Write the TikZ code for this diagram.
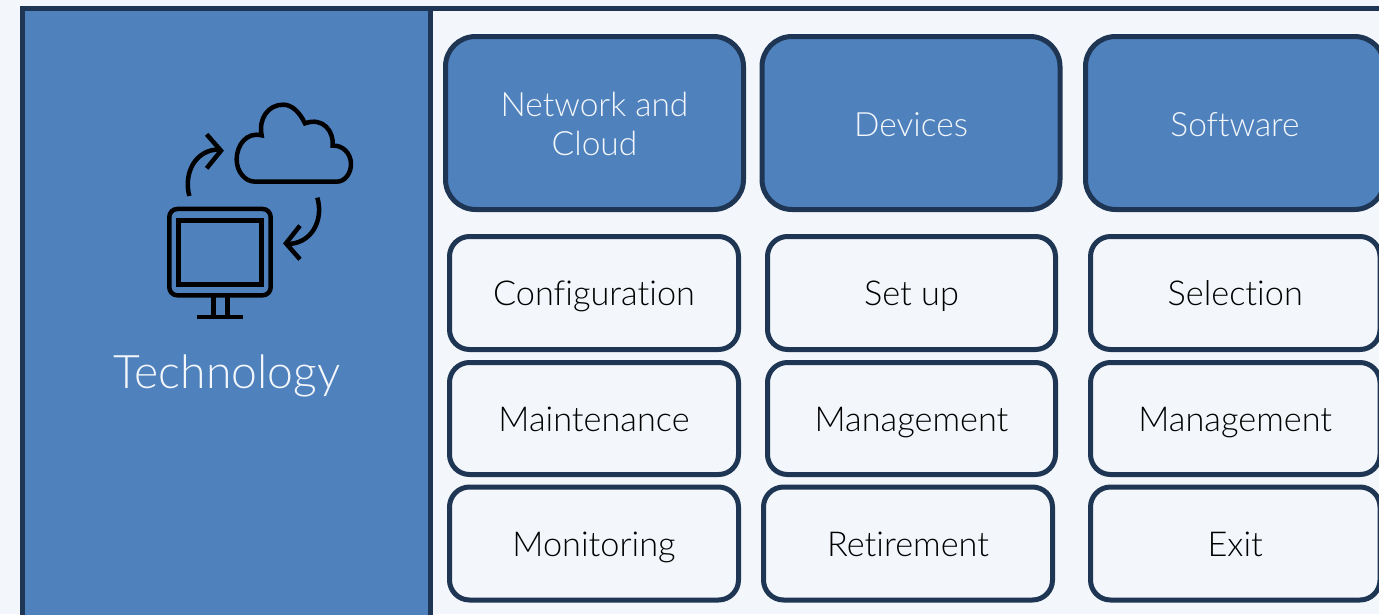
\documentclass[tikz,border=0pt]{standalone}
\usepackage{fontspec}
\setmainfont{Lato}[UprightFont=* Light,Ligatures=NoCommon]
\definecolor{panelblue}{HTML}{4F81BD}
\definecolor{navy}{HTML}{1E3653}
\definecolor{paper}{HTML}{F3F7FB}
\newcommand{\linestrut}{\vrule width 0pt height 32pt depth 7pt\relax}
\newcommand{\headstrut}{\vrule width 0pt height 34pt depth 7pt\relax}
\tikzset{
  x=1pt,y=-1pt,
  boxbase/.style={draw=navy,line width=5pt,rounded corners=#1,inner sep=0pt,align=center},
  headbox/.style={boxbase=30pt,fill=panelblue,text=paper,font=\fontsize{33.5}{39}\selectfont},
  subbox/.style={boxbase=20pt,fill=paper,text=black,font=\fontsize{34.3}{39}\selectfont},
  icon/.style={draw=black,line width=4.5pt,line cap=butt,line join=miter}
}
\newcommand{\gridbox}[7]{%
  % style, name, x1, y1, x2, y2, text
  \node[#1,minimum width={#5-#3},minimum height={#6-#4}] (#2) at ({(#3+#5)/2},{(#4+#6)/2}) {#7};
}
\begin{document}
\begin{tikzpicture}
\useasboundingbox (0,0) rectangle (1379,614);
\fill[paper] (0,0) rectangle (1379,614);
\clip (0,0) rectangle (1379,614);
\draw[draw=navy,line width=5pt] (1400,8.5) -- (430.5,8.5);
\draw[draw=navy,line width=5.5pt,fill=panelblue] (22.5,640) -- (22.5,8.5) -- (430.5,8.5) -- (430.5,640);
\node[text=paper,font=\fontsize{46.3}{52}\selectfont] (tech) at (227,376) {Technology};
% icon
\begin{scope}[shift={(140,90)},x=0.3333pt,y=-0.3333pt]
 \draw[icon,rounded corners=8pt] (88,357) rectangle (392,616);
 \draw[icon] (116,391) rectangle (365,584);
 \draw[icon] (220,616) -- (220,681) (262,616) -- (262,681);
 \draw[icon] (171,681) -- (309,681);
 \draw[icon] (345,275) -- (590,275)
   .. controls (615,275) and (633,250) .. (633,222)
   .. controls (633,190) and (608,165) .. (578,167)
   .. controls (582,125) and (550,80) .. (495,100)
   .. controls (478,65) and (455,44) .. (430,44)
   .. controls (385,44) and (355,85) .. (365,136)
   .. controls (320,125) and (290,165) .. (290,208)
   .. controls (290,245) and (315,275) .. (345,275) -- cycle;
 \draw[icon] (148,318) .. controls (130,250) and (165,178) .. (240,178);
 \draw[icon] (200,133) -- (243,182) -- (200,235);
 \draw[icon] (532,323) .. controls (552,390) and (515,462) .. (442,462);
 \draw[icon] (480,407) -- (438,460) -- (480,508);
\end{scope}
% headers
\gridbox{headbox}{hnet}{445.5}{36.5}{743.5}{209.5}{Network and\linestrut\\Cloud\linestrut}
\gridbox{headbox}{hdev}{762}{36.5}{1060}{209.5}{Devices\headstrut}
\gridbox{headbox}{hsoft}{1085.5}{36.5}{1384.5}{209.5}{Software\headstrut}
% column 1
\gridbox{subbox}{a1}{449.5}{236.5}{738.5}{349.5}{Configuration\linestrut}
\gridbox{subbox}{a2}{449.5}{362.5}{738.5}{474.5}{Maintenance\linestrut}
\gridbox{subbox}{a3}{449.5}{487}{738.5}{600}{Monitoring\linestrut}
% column 2
\gridbox{subbox}{b1}{767.5}{236.5}{1055.5}{349.5}{Set up\linestrut}
\gridbox{subbox}{b2}{767.5}{362.5}{1055.5}{474.5}{Management\linestrut}
\gridbox{subbox}{b3}{763.5}{487}{1052.5}{600}{Retirement\linestrut}
% column 3
\gridbox{subbox}{c1}{1090.5}{236.5}{1380}{349.5}{Selection\linestrut}
\gridbox{subbox}{c2}{1090.5}{362.5}{1380}{474.5}{Management\linestrut}
\gridbox{subbox}{c3}{1090.5}{487}{1380}{600}{Exit\linestrut}
\end{tikzpicture}
\end{document}
